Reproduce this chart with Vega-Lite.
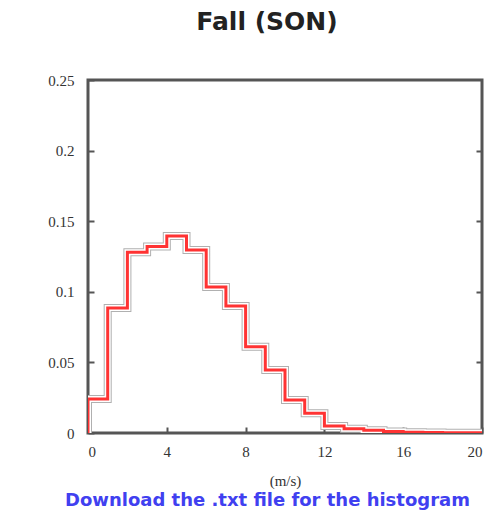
{
  "$schema": "https://vega.github.io/schema/vega-lite/v6.json",
  "autosize": "none",
  "width": 394,
  "height": 353,
  "padding": {"left": 88, "top": 80, "right": 21, "bottom": 78},
  "background": "white",
  "title": {"text": "Fall (SON)", "font": "DejaVu Sans", "fontSize": 25, "fontWeight": "bold", "color": "#222", "anchor": "middle", "dx": -18, "offset": 38},
  "config": {"view": {"stroke": "#555", "strokeWidth": 3}},
  "data": {"values": [
    {"k": 0, "ws": 0, "freq": 0},
    {"k": 1, "ws": 0, "freq": 0.024},
    {"k": 2, "ws": 1, "freq": 0.0885},
    {"k": 3, "ws": 2, "freq": 0.128},
    {"k": 4, "ws": 3, "freq": 0.132},
    {"k": 5, "ws": 4, "freq": 0.1395},
    {"k": 6, "ws": 5, "freq": 0.1296},
    {"k": 7, "ws": 6, "freq": 0.1034},
    {"k": 8, "ws": 7, "freq": 0.09},
    {"k": 9, "ws": 8, "freq": 0.061},
    {"k": 10, "ws": 9, "freq": 0.0446},
    {"k": 11, "ws": 10, "freq": 0.0234},
    {"k": 12, "ws": 11, "freq": 0.014},
    {"k": 13, "ws": 12, "freq": 0.005},
    {"k": 14, "ws": 13, "freq": 0.003},
    {"k": 15, "ws": 14, "freq": 0.002},
    {"k": 16, "ws": 15, "freq": 0.001},
    {"k": 17, "ws": 16, "freq": 0.0005},
    {"k": 18, "ws": 17, "freq": 0.0003},
    {"k": 19, "ws": 18, "freq": 0.0002},
    {"k": 20, "ws": 19, "freq": 0.0001},
    {"k": 21, "ws": 20, "freq": 0}
  ]},
  "layer": [
    {
      "mark": {"type": "line", "interpolate": "step-after", "color": "#b0b0b0", "strokeWidth": 8, "clip": true},
      "encoding": {
        "x": {"field": "ws", "type": "quantitative", "scale": {"domain": [0, 20], "nice": false},
          "axis": {"values": [0, 4, 8, 12, 16, 20], "title": "(m/s)", "grid": false, "domain": false, "tickSize": -6, "tickColor": "#555", "tickWidth": 2, "labelPadding": 17,
            "labelFont": "Liberation Serif", "labelFontSize": 15, "labelColor": "#333", "titleFont": "Liberation Serif", "titleFontSize": 15, "titleFontWeight": "normal", "titleColor": "#333", "titlePadding": 14}},
        "y": {"field": "freq", "type": "quantitative", "scale": {"domain": [0, 0.25], "nice": false},
          "axis": {"values": [0, 0.05, 0.1, 0.15, 0.2, 0.25], "format": "~g", "title": null, "grid": false, "domain": false, "tickSize": -6, "tickColor": "#555", "tickWidth": 2, "labelPadding": 20,
            "labelFont": "Liberation Serif", "labelFontSize": 15, "labelColor": "#333"}},
        "order": {"field": "k", "type": "quantitative"}
      }
    },
    {
      "mark": {"type": "line", "interpolate": "step-after", "color": "white", "strokeWidth": 6, "clip": true},
      "encoding": {
        "x": {"field": "ws", "type": "quantitative", "scale": {"domain": [0, 20], "nice": false},
          "axis": {"orient": "bottom", "title": "Download the .txt file for the histogram", "labels": false, "ticks": false, "domain": false, "grid": false, "offset": 0, "titlePadding": 58,
            "titleFont": "DejaVu Sans", "titleFontSize": 18, "titleFontWeight": "bold", "titleColor": "#4040f0", "titleX": 179}},
        "y": {"field": "freq", "type": "quantitative", "scale": {"domain": [0, 0.25], "nice": false},
          "axis": {"orient": "right", "values": [0.05, 0.1, 0.15, 0.2], "labels": false, "title": null, "grid": false, "domain": false, "tickSize": -6, "tickColor": "#555", "tickWidth": 2}},
        "order": {"field": "k", "type": "quantitative"}
      }
    },
    {
      "mark": {"type": "line", "interpolate": "step-after", "color": "#ff3333", "strokeWidth": 3, "clip": true},
      "encoding": {
        "x": {"field": "ws", "type": "quantitative", "scale": {"domain": [0, 20], "nice": false}, "axis": null},
        "y": {"field": "freq", "type": "quantitative", "scale": {"domain": [0, 0.25], "nice": false}, "axis": null},
        "order": {"field": "k", "type": "quantitative"}
      }
    }
  ],
  "resolve": {"scale": {"x": "independent", "y": "independent"}, "axis": {"x": "independent", "y": "independent"}}
}
